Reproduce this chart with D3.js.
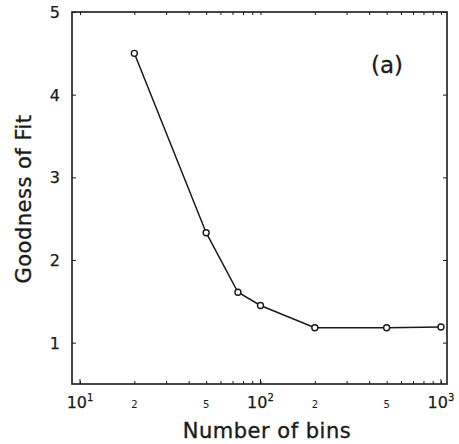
<!DOCTYPE html>
<html><head><meta charset="utf-8">
<script src="https://cdn.jsdelivr.net/npm/d3@7"></script>
<style>body{margin:0;background:#fff}svg{display:block}</style>
</head><body><svg id="c" width="459" height="444"></svg>
<script>
// Data
const bins = [20, 50, 75, 100, 200, 500, 1000];
const goodness = [4.5, 2.33, 1.61, 1.45, 1.18, 1.18, 1.19];
const yTickValues = [1, 2, 3, 4, 5];
const xMajorTicks = [10, 100, 1000];
const xMajorExponents = ["1", "2", "3"];
const xMinorLabelValues = [20, 50, 200, 500];
const xMinorLabelText = ["2", "5", "2", "5"];
const xLabel = "Number of bins";
const yLabel = "Goodness of Fit";
const panelLabel = "(a)";

(function () {
const svg = d3.select("#c");
const L = 72, R = 447, T = 12, B = 384;
const ink = "#1a1a1a";
const font = "DejaVu Sans, sans-serif";

const x = d3.scaleLog().domain([9.03, 1080]).range([L, R]);
const y = d3.scaleLinear().domain([0.5, 5.0]).range([B, T]);

const minorTicks = [];
[10, 100].forEach(d => { for (let k = 1; k <= 9; k++) minorTicks.push(d * k); });
minorTicks.push(1000);

const axBottom = d3.axisBottom(x).tickValues(minorTicks).tickSize(-3).tickFormat("");
const axTop = d3.axisTop(x).tickValues(minorTicks).tickSize(-3).tickFormat("");
const axLeft = d3.axisLeft(y).tickValues(yTickValues).tickSize(-4).tickFormat("");
const axRight = d3.axisRight(y).tickValues(yTickValues).tickSize(-4).tickFormat("");

function style(g) {
  g.select(".domain").remove();
  g.selectAll(".tick line").attr("stroke", ink).attr("stroke-width", 1);
}
svg.append("g").attr("transform", `translate(0,${B})`).call(axBottom).call(style);
svg.append("g").attr("transform", `translate(0,${T})`).call(axTop).call(style);
svg.append("g").attr("transform", `translate(${L},0)`).call(axLeft).call(style);
svg.append("g").attr("transform", `translate(${R},0)`).call(axRight).call(style);

svg.selectAll("line.majx").data(xMajorTicks).enter().append("line")
  .attr("x1", d => x(d)).attr("x2", d => x(d)).attr("y1", B).attr("y2", B - 5)
  .attr("stroke", ink).attr("stroke-width", 1);

svg.append("rect").attr("x", L).attr("y", T).attr("width", R - L).attr("height", B - T)
  .attr("fill", "none").attr("stroke", ink).attr("stroke-width", 1.6);

svg.selectAll("text.yt").data(yTickValues).enter().append("text")
  .attr("x", L - 12).attr("y", d => y(d) + 6)
  .attr("text-anchor", "end").attr("font-family", font).attr("font-size", 16)
  .attr("fill", ink).attr("stroke", ink).attr("stroke-width", 0.25).text(d => d);

const xm = svg.selectAll("text.xm").data(xMajorTicks).enter().append("text")
  .attr("x", d => x(d)).attr("y", 408)
  .attr("text-anchor", "middle").attr("font-family", font).attr("font-size", 16)
  .attr("fill", ink).attr("stroke", ink).attr("stroke-width", 0.25);
xm.append("tspan").text("10");
xm.append("tspan").attr("dy", -7).attr("font-size", 10).text((d, i) => xMajorExponents[i]);

svg.selectAll("text.xn").data(xMinorLabelValues).enter().append("text")
  .attr("x", d => x(d)).attr("y", 408)
  .attr("text-anchor", "middle").attr("font-family", font).attr("font-size", 10)
  .attr("fill", ink).text((d, i) => xMinorLabelText[i]);

svg.append("text").attr("x", 267).attr("y", 438).attr("text-anchor", "middle")
  .attr("font-family", font).attr("font-size", 21).attr("letter-spacing", 0.5)
  .attr("fill", ink).attr("stroke", ink).attr("stroke-width", 0.35).text(xLabel);
svg.append("text").attr("transform", "translate(31,199) rotate(-90)").attr("text-anchor", "middle")
  .attr("font-family", font).attr("font-size", 21).attr("letter-spacing", 0.5)
  .attr("fill", ink).attr("stroke", ink).attr("stroke-width", 0.35).text(yLabel);

svg.append("text").attr("x", 387).attr("y", 73).attr("text-anchor", "middle")
  .attr("font-family", font).attr("font-size", 23)
  .attr("fill", ink).attr("stroke", ink).attr("stroke-width", 0.3).text(panelLabel);

const pts = bins.map((b, i) => ({ b, g: goodness[i] }));
const line = d3.line().x(d => x(d.b)).y(d => y(d.g));
svg.append("path").datum(pts).attr("d", line).attr("fill", "none")
  .attr("stroke", ink).attr("stroke-width", 1.5);
svg.selectAll("circle.pt").data(pts).enter().append("circle")
  .attr("cx", d => x(d.b)).attr("cy", d => y(d.g)).attr("r", 3)
  .attr("fill", "#fff").attr("stroke", ink).attr("stroke-width", 1.4);
})();
</script></body></html>
